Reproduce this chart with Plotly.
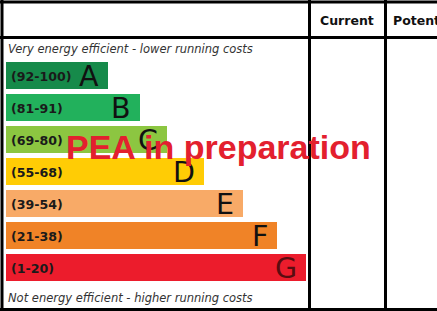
import plotly.graph_objects as go

W, H = 437, 311

bands = ["A", "B", "C", "D", "E", "F", "G"]
ranges = ["(92-100)", "(81-91)", "(69-80)", "(55-68)", "(39-54)", "(21-38)", "(1-20)"]
bar_lengths = [102, 134, 161, 198, 237, 271, 300]
colors = ["#168a4a", "#22b15c", "#8cc641", "#ffcc05", "#f8aa67", "#f08327", "#ec1c2c"]
letter_colors = ["#111111"] * 6 + ["#5a0c10"]
header_labels = ["Current", "Potential"]
top_note = "Very energy efficient - lower running costs"
bottom_note = "Not energy efficient - higher running costs"
overlay = "PEA in preparation"


def px(x):
    return x / W


def py(y):
    return 1 - y / H


fig = go.Figure()
fig.add_trace(go.Bar(
    y=bands, x=bar_lengths, orientation="h",
    marker=dict(color=colors, line=dict(width=0)),
    width=0.84, hoverinfo="skip",
))

ann = []
for b, r, L, lc in zip(bands, ranges, bar_lengths, letter_colors):
    ann.append(dict(x=0, y=b, xref="x", yref="y", text=r, showarrow=False,
                    xanchor="left", yanchor="middle", xshift=3, yshift=-1,
                    font=dict(family="DejaVu Sans", size=12.6, color="#1a1a1a", weight="bold")))
    ann.append(dict(x=L, y=b, xref="x", yref="y", text=b, showarrow=False,
                    xanchor="right", yanchor="middle", xshift=-7, yshift=-1,
                    font=dict(family="DejaVu Sans", size=28.5, color=lc)))

ann.append(dict(x=px(6), y=py(49), xref="paper", yref="paper", text="<i>" + top_note + "</i>",
                showarrow=False, xanchor="left", yanchor="middle",
                font=dict(family="DejaVu Sans", size=11.5, color="#333333")))
ann.append(dict(x=px(6), y=py(298), xref="paper", yref="paper", text="<i>" + bottom_note + "</i>",
                showarrow=False, xanchor="left", yanchor="middle",
                font=dict(family="DejaVu Sans", size=11.5, color="#333333")))
ann.append(dict(x=px(347), y=py(21), xref="paper", yref="paper", text="<b>" + header_labels[0] + "</b>",
                showarrow=False, xanchor="center", yanchor="middle",
                font=dict(family="DejaVu Sans", size=12.5, color="#111111")))
ann.append(dict(x=px(391), y=py(21), xref="paper", yref="paper", text="<b>" + header_labels[1] + "</b>",
                showarrow=False, xanchor="left", yanchor="middle",
                font=dict(family="DejaVu Sans", size=12.5, color="#111111")))
ann.append(dict(x=px(218.5), y=py(147), xref="paper", yref="paper", text="<b>" + overlay + "</b>",
                showarrow=False, xanchor="center", yanchor="middle",
                font=dict(family="Liberation Sans", size=34, color="#e3202e")))

shapes = []
lw = 3
def line(x0, y0, x1, y1):
    shapes.append(dict(type="line", xref="paper", yref="paper",
                       x0=px(x0), y0=py(y0), x1=px(x1), y1=py(y1),
                       line=dict(color="#000000", width=lw)))

line(0, 2, W + 5, 2)
line(2, 0, 2, H)
line(0, 37.5, W + 5, 37.5)
line(309.5, 0, 309.5, H)
line(385.5, 0, 385.5, H)
line(0, 309.5, W + 5, 309.5)

fig.update_layout(
    width=W, height=H, margin=dict(l=0, r=0, t=0, b=0),
    paper_bgcolor="white", plot_bgcolor="white",
    showlegend=False, annotations=ann, shapes=shapes,
    xaxis=dict(range=[-6, W - 6], visible=False, fixedrange=True),
    yaxis=dict(type="category", categoryarray=bands, range=[(H - 75.5) / 32, -75.5 / 32],
               visible=False, fixedrange=True),
    bargap=0,
)

fig.write_html("out.html", config={"displayModeBar": False})
